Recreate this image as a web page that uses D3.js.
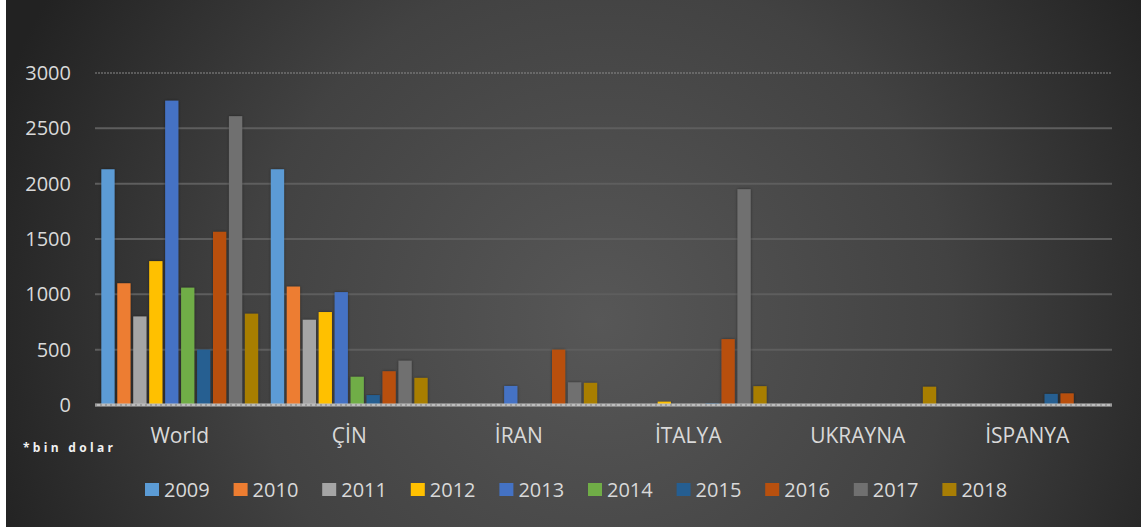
<!DOCTYPE html>
<html><head><meta charset="utf-8">
<script src="https://cdn.jsdelivr.net/npm/d3@7"></script>
<style>html,body{margin:0;padding:0;background:#fff;overflow:hidden}</style>
</head><body>
<svg id="c" width="1146" height="530"></svg>
<script>
const categories = ["World", "ÇİN", "İRAN", "İTALYA", "UKRAYNA", "İSPANYA"];
const years = ["2009","2010","2011","2012","2013","2014","2015","2016","2017","2018"];
const v2009 = [2130, 2130, 0, 0, 0, 0];
const v2010 = [1100, 1070, 5, 5, 0, 0];
const v2011 = [800, 770, 0, 3, 0, 0];
const v2012 = [1300, 840, 0, 30, 0, 0];
const v2013 = [2750, 1020, 172, 0, 0, 0];
const v2014 = [1060, 255, 0, 0, 0, 0];
const v2015 = [500, 90, 0, 15, 0, 100];
const v2016 = [1565, 305, 500, 595, 0, 105];
const v2017 = [2610, 400, 205, 1950, 0, 0];
const v2018 = [825, 245, 200, 170, 165, 0];
const series = [v2009,v2010,v2011,v2012,v2013,v2014,v2015,v2016,v2017,v2018];
const yTicks = [0, 500, 1000, 1500, 2000, 2500, 3000];
const colors = ["#5B9BD5","#ED7D31","#A5A5A5","#FFC000","#4472C4","#70AD47","#255E91","#B8500E","#707070","#A87E05"];

const svg = d3.select("#c");
const defs = svg.append("defs");
const rg = defs.append("radialGradient").attr("id","bg").attr("gradientUnits","userSpaceOnUse")
  .attr("cx",600).attr("cy",320).attr("r",640);
rg.append("stop").attr("offset","0").attr("stop-color","#575757");
rg.append("stop").attr("offset","0.55").attr("stop-color","#424242");
rg.append("stop").attr("offset","1").attr("stop-color","#222222");
const sh = defs.append("filter").attr("id","sh").attr("x","-30%").attr("y","-10%").attr("width","160%").attr("height","120%");
sh.append("feDropShadow").attr("dx",0).attr("dy",0).attr("stdDeviation",1.5).attr("flood-color","#000").attr("flood-opacity",0.45);

svg.append("rect").attr("x",6).attr("y",0).attr("width",1135).attr("height",527).attr("fill","url(#bg)");

const pLeft = 95, pRight = 1112, pTop = 73, pBottom = 405;
const FONT = "'Open Sans', sans-serif";
const x0 = d3.scaleBand().domain(categories).range([pLeft,pRight]).paddingInner(0.075).paddingOuter(0.0375);
const x1 = d3.scaleBand().domain(years).range([0,x0.bandwidth()]).paddingInner(0.17);
const y = d3.scaleLinear().domain([0,3000]).range([pBottom, pTop]);

// gridlines
const grid = svg.append("g");
yTicks.forEach(t => {
  if (t === 0) return;
  grid.append("line").attr("x1",pLeft).attr("x2",pRight).attr("y1",y(t)).attr("y2",y(t))
    .attr("stroke", t===3000 ? "#8a8a8a" : "#5e5e5e")
    .attr("stroke-width", t===3000 ? 1 : 2)
    .attr("stroke-dasharray", t===3000 ? "2,1" : null);
});

// y axis labels
const yAxis = d3.axisLeft(y).tickValues(yTicks).tickSize(0).tickPadding(0).tickFormat(d3.format("d"));
const ya = svg.append("g").attr("transform","translate(71,0)").call(yAxis);
ya.select(".domain").remove();
ya.selectAll("text").attr("fill","#d9d9d9").style("font-family",FONT).style("font-size","20px");

// bars
const groups = svg.append("g").selectAll("g").data(categories).join("g")
  .attr("transform", d => `translate(${x0(d)},0)`);
groups.selectAll("rect").data((c,ci) => years.map((yr,si) => ({yr, v: series[si][ci], si})))
  .join("rect")
  .attr("x", d => x1(d.yr))
  .attr("width", x1.bandwidth())
  .attr("y", d => y(d.v))
  .attr("height", d => Math.max(0, pBottom - y(d.v)))
  .attr("fill", d => colors[d.si])
  .attr("filter","url(#sh)");

// zero line
svg.append("line").attr("x1",pLeft).attr("x2",pRight).attr("y1",pBottom).attr("y2",pBottom)
  .attr("stroke","#bdbdbd").attr("stroke-width",3);
svg.append("line").attr("x1",pLeft).attr("x2",pRight).attr("y1",pBottom).attr("y2",pBottom)
  .attr("stroke","#7a7a7a").attr("stroke-width",1).attr("stroke-dasharray","2,3");

// x axis labels
const xAxis = d3.axisBottom(x0).tickSize(0).tickPadding(0);
const xa = svg.append("g").attr("transform",`translate(0,443)`).call(xAxis);
xa.select(".domain").remove();
xa.selectAll("text").attr("fill","#d9d9d9").attr("dy","0").style("font-family",FONT).style("font-size","21px");

// note
svg.append("text").attr("x",23).attr("y",452).text("*bin dolar")
  .attr("fill","#f2f2f2").style("font-family",FONT).style("font-size","12px")
  .style("font-weight","bold").style("letter-spacing","3.3px");

// legend
const lg = svg.append("g");
const lx = d3.scaleBand().domain(years).range([145, 145 + 88.6*10]);
years.forEach((yr,i) => {
  const g = lg.append("g").attr("transform",`translate(${lx(yr)},0)`);
  g.append("rect").attr("x",0).attr("y",483).attr("width",14).attr("height",13).attr("fill",colors[i]);
  g.append("text").attr("x",19).attr("y",497).text(yr).attr("fill","#d9d9d9")
    .style("font-family",FONT).style("font-size","20px");
});
</script>
</body></html>
